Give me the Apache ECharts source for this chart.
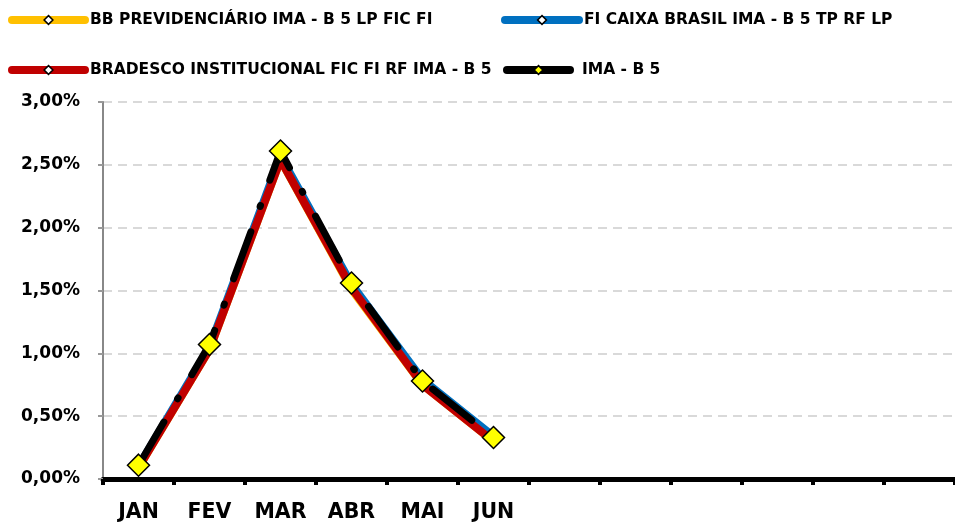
<!DOCTYPE html>
<html>
<head>
<meta charset="utf-8">
<script src="https://cdn.jsdelivr.net/npm/echarts@6/dist/echarts.min.js"></script>
<style>
  html, body { margin: 0; padding: 0; background: #fff; }
  #chart { width: 955px; height: 523px; }
</style>
</head>
<body>
<div id="chart"></div>
<script>
// meses (12 posições no eixo, só 6 com rótulo)
const meses = ['JAN', 'FEV', 'MAR', 'ABR', 'MAI', 'JUN', '', '', '', '', '', ''];
const yTicks = [0, 0.5, 1, 1.5, 2, 2.5, 3];

// rentabilidade mensal (%)
const bbPrev = [0.09, 1.03, 2.54, 1.51, 0.75, 0.30];
const caixa = [0.10, 1.05, 2.57, 1.55, 0.79, 0.34];
const bradesco = [0.09, 1.03, 2.54, 1.52, 0.75, 0.30];
const imaB5 = [0.11, 1.07, 2.61, 1.56, 0.78, 0.33];

const nomes = [
  'BB PREVIDENCIÁRIO IMA - B 5 LP FIC FI',
  'FI CAIXA BRASIL IMA - B 5 TP RF LP',
  'BRADESCO INSTITUCIONAL FIC FI RF IMA - B 5',
  'IMA - B 5'
];

const diamond = 'path://M0,-10 L10,0 L0,10 L-10,0 Z';
const fonte = 'DejaVu Sans';

const chart = echarts.init(document.getElementById('chart'));

// uma legenda por item para posicionar como no original
function legenda(nome, left, top, largura, cor, marcador, recuo) {
  return {
    left: left,
    top: top,
    itemWidth: largura,
    itemHeight: 11,
    padding: 0,
    data: [{
      name: nome,
      lineStyle: { width: 8, type: 'solid', color: cor, cap: 'round' },
      itemStyle: { color: marcador, borderColor: '#000', borderWidth: 1.5 }
    }],
    textStyle: { fontFamily: fonte, fontWeight: 'bold', fontSize: 15.5, color: '#000', padding: [0, 0, 0, recuo] },
    selectedMode: false
  }
}

const option = {
  animation: false,
  legend: [
    legenda(nomes[0], 8, 12, 73, '#FFC000', '#fff', 0),
    legenda(nomes[1], 501, 12, 74, '#0070C0', '#fff', 0),
    legenda(nomes[2], 8, 62, 73, '#C00000', '#fff', 0),
    legenda(nomes[3], 503, 62, 63, '#000', '#FFFF00', 7)
  ],
  grid: { left: 103, right: 0, top: 102, bottom: 43, containLabel: false },
  xAxis: {
    type: 'category',
    data: meses,
    boundaryGap: true,
    axisLine: { lineStyle: { color: '#000', width: 5 } },
    axisTick: { show: true, length: 6, lineStyle: { color: '#000', width: 4 } },
    axisLabel: { fontFamily: fonte, fontWeight: 'bold', fontSize: 20.5, color: '#000', margin: 23, interval: 0 },
    splitLine: { show: false }
  },
  yAxis: {
    type: 'value',
    min: 0,
    max: 3,
    interval: 0.5,
    axisLine: { show: true, lineStyle: { color: '#888', width: 2 } },
    axisTick: { show: true, length: 5, lineStyle: { color: '#999', width: 2 } },
    axisLabel: {
      fontFamily: fonte, fontWeight: 'bold', fontSize: 17, color: '#000', margin: 23,
      formatter: v => v.toFixed(2).replace('.', ',') + '%'
    },
    splitLine: { lineStyle: { color: '#d9d9d9', width: 2, type: [9, 6] } }
  },
  series: [
    {
      name: nomes[0], type: 'line', data: bbPrev,
      symbol: diamond, showSymbol: false,
      lineStyle: { color: '#FFC000', width: 8 }, itemStyle: { color: '#FFC000' }
    },
    {
      name: nomes[1], type: 'line', data: caixa,
      symbol: diamond, showSymbol: false,
      lineStyle: { color: '#0070C0', width: 8 }, itemStyle: { color: '#0070C0' }
    },
    {
      name: nomes[2], type: 'line', data: bradesco,
      symbol: diamond, showSymbol: false,
      lineStyle: { color: '#C00000', width: 8 }, itemStyle: { color: '#C00000' }
    },
    {
      name: nomes[3], type: 'line', data: imaB5,
      symbol: diamond, symbolSize: 22, showSymbol: true,
      lineStyle: { color: '#000', width: 7, type: [50, 27, 1, 27], cap: 'round' },
      itemStyle: { color: '#FFFF00', borderColor: '#000', borderWidth: 1.5 },
      z: 5
    }
  ]
};

chart.setOption(option);
</script>
</body>
</html>
